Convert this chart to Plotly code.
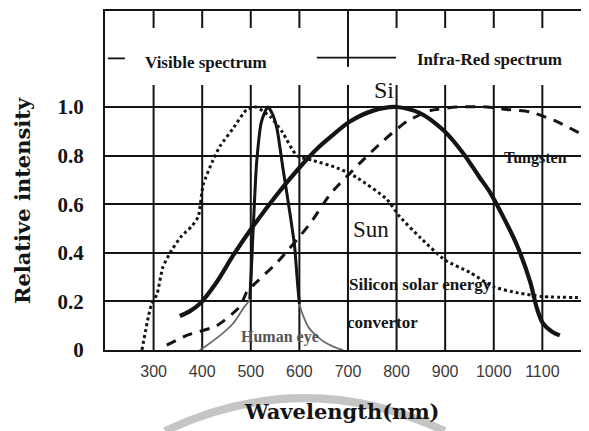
import plotly.graph_objects as go

# ---- data ----
x_ticks = [300, 400, 500, 600, 700, 800, 900, 1000, 1100]
y_ticks = [0, 0.2, 0.4, 0.6, 0.8, 1.0]
y_tick_labels = ["0", "0.2", "0.4", "0.6", "0.8", "1.0"]

sun_x = [276, 289, 296, 307, 319, 337, 358, 379, 392, 402, 422, 437, 463, 492, 510, 540, 564,
         595, 628, 677, 718, 780, 806, 850, 900, 950, 1000, 1050, 1100, 1196]
sun_y = [0.0, 0.135, 0.19, 0.23, 0.34, 0.41, 0.47, 0.51, 0.55, 0.68, 0.78, 0.84, 0.91, 0.99, 1.0,
         0.96, 0.90, 0.80, 0.78, 0.75, 0.71, 0.62, 0.55, 0.46, 0.37, 0.32, 0.26, 0.235, 0.22, 0.215]

si_x = [354, 375, 395, 430, 464, 505, 554, 600, 640, 663, 704, 752, 800, 848, 896, 937, 971,
        992, 1019, 1048, 1075, 1089, 1101, 1120, 1136]
si_y = [0.14, 0.16, 0.19, 0.28, 0.39, 0.51, 0.64, 0.75, 0.835, 0.875, 0.94, 0.985, 1.0, 0.975,
        0.905, 0.81, 0.71, 0.65, 0.55, 0.43, 0.28, 0.17, 0.11, 0.075, 0.06]

tung_x = [327, 368, 430, 478, 492, 512, 554, 622, 663, 725, 772, 821, 869, 924, 986, 1027,
          1075, 1130, 1184, 1196]
tung_y = [0.02, 0.06, 0.10, 0.18, 0.24, 0.28, 0.36, 0.52, 0.64, 0.77, 0.86, 0.94, 0.985, 1.0,
          1.0, 0.99, 0.98, 0.94, 0.885, 0.875]

eye_x = [395, 410, 437, 464, 484, 498, 505, 512, 522, 535, 545, 554, 566, 580, 590, 596, 600,
         610, 620, 640, 654, 675, 690]
eye_y = [0.0, 0.02, 0.06, 0.11, 0.17, 0.21, 0.5, 0.77, 0.94, 1.0, 0.97, 0.91, 0.75, 0.57, 0.43,
         0.28, 0.19, 0.13, 0.09, 0.05, 0.03, 0.01, 0.0]

X_MIN, X_MAX = 200, 1196
Y_MIN, Y_MAX = 0, 1.395

INK = "#141414"
SERIF = "Liberation Serif, Times New Roman, serif"
SERIF_W = "DejaVu Serif, serif"
SANS = "Liberation Sans, Arial, sans-serif"

fig = go.Figure()

# Human eye: thin grey wings + thick black core
fig.add_trace(go.Scatter(x=eye_x, y=eye_y, mode="lines",
                         line=dict(color="#6a6a6a", width=1.8, shape="spline", smoothing=0.6),
                         hoverinfo="skip", showlegend=False))
core = [(a, b) for a, b in zip(eye_x, eye_y) if b >= 0.19]
fig.add_trace(go.Scatter(x=[c[0] for c in core], y=[c[1] for c in core], mode="lines",
                         line=dict(color=INK, width=3, shape="spline", smoothing=0.6),
                         hoverinfo="skip", showlegend=False))

# Sun: dotted
fig.add_trace(go.Scatter(x=sun_x, y=sun_y, mode="lines",
                         line=dict(color=INK, width=3, dash="dot", shape="spline", smoothing=0.6),
                         showlegend=False))
# Tungsten: dashed
fig.add_trace(go.Scatter(x=tung_x, y=tung_y, mode="lines",
                         line=dict(color=INK, width=3, dash="10px,8px", shape="spline", smoothing=0.6),
                         showlegend=False))
# Si: thick solid
fig.add_trace(go.Scatter(x=si_x, y=si_y, mode="lines",
                         line=dict(color=INK, width=4.2, shape="spline", smoothing=0.8),
                         showlegend=False))

shapes = []
# vertical grid lines (lower part) and top tick marks
for xt in x_ticks:
    shapes.append(dict(type="line", xref="x", yref="y", x0=xt, x1=xt, y0=0, y1=1.09,
                       line=dict(color=INK, width=2), layer="below"))
    shapes.append(dict(type="line", xref="x", yref="y", x0=xt, x1=xt, y0=1.325 if xt != 700 else 1.165,
                       y1=Y_MAX, line=dict(color=INK, width=2), layer="below"))
# spectrum markers
shapes.append(dict(type="line", xref="x", yref="y", x0=206, x1=241, y0=1.2, y1=1.2,
                   line=dict(color=INK, width=1.8)))
shapes.append(dict(type="line", xref="x", yref="y", x0=636, x1=799, y0=1.203, y1=1.203,
                   line=dict(color=INK, width=1.8)))
# watermark arc at the bottom
shapes.append(dict(type="path", xref="paper", yref="paper",
                   path="M 0.124 -0.239 Q 0.413 -0.045 0.702 -0.239",
                   line=dict(color="rgba(150,150,150,0.55)", width=8)))

ann = []
def txt(x, y, s, size, font=SERIF, bold=True, color=INK, xanchor="center", xref="x", yref="y", angle=0):
    ann.append(dict(x=x, y=y, xref=xref, yref=yref, text=f"<b>{s}</b>" if bold else s,
                    showarrow=False, xanchor=xanchor, yanchor="middle", textangle=angle,
                    font=dict(family=font, size=size, color=color)))

txt(278, 1.185, "Visible spectrum", 17, xanchor="left")
txt(838, 1.195, "Infra-Red spectrum", 17, xanchor="left")
txt(774, 1.07, "Si", 24, bold=False)
txt(747, 0.494, "Sun", 23, bold=False)
txt(1017, 0.79, "Tungsten", 16, xanchor="left")
txt(697, 0.268, "Silicon solar energy", 17, xanchor="left")
txt(694, 0.115, "convertor", 17, xanchor="left")
txt(560, 0.055, "Human eye", 16, color="#555555")
txt(-0.169, 0.44, "Relative intensity", 21, font=SERIF_W, xref="paper", yref="paper", angle=-90)
txt(0.49, -0.18, "Wavelength(nm)", 21, font=SERIF_W, xref="paper", yref="paper")

# page body has an 8px default margin -> figure is offset by 8px right and down
fig.update_layout(
    width=581, height=423,
    margin=dict(l=97, r=0, t=3, b=81, autoexpand=False),
    paper_bgcolor="white", plot_bgcolor="white",
    shapes=shapes, annotations=ann,
    showlegend=False,
    xaxis=dict(range=[X_MIN, X_MAX], tickvals=x_ticks, ticktext=[str(v) for v in x_ticks],
               showgrid=False, zeroline=False, showline=True, linecolor=INK, linewidth=2,
               mirror=True, ticks="", ticklabelstandoff=6, automargin=False,
               tickfont=dict(family=SANS, size=16, color="#3a3a3a")),
    yaxis=dict(range=[Y_MIN, Y_MAX], tickvals=y_ticks, ticktext=y_tick_labels,
               showgrid=True, gridcolor=INK, gridwidth=2, zeroline=False, automargin=False,
               showline=True, linecolor=INK, linewidth=2, ticks="", ticklabelstandoff=15,
               tickfont=dict(family=SERIF, size=21, color=INK, weight="bold")),
)

fig.write_html("out.html")
